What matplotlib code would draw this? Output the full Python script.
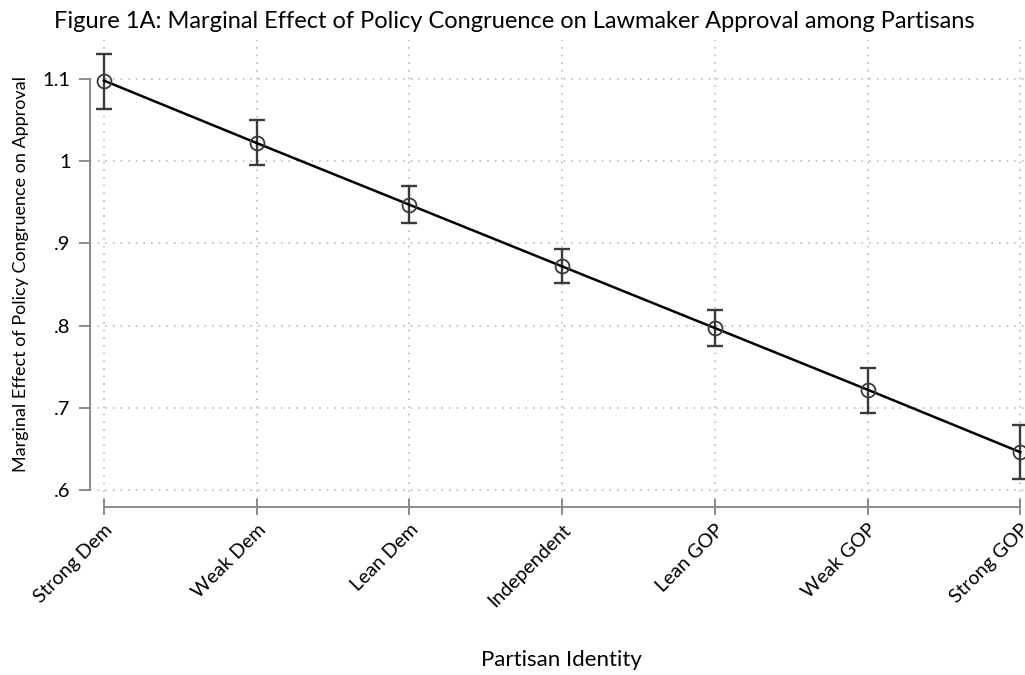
import matplotlib
matplotlib.use("Agg")
import matplotlib.pyplot as plt
import numpy as np

# Partisan identity categories and estimated marginal effects with 95% CIs
categories = ["Strong Dem", "Weak Dem", "Lean Dem", "Independent",
              "Lean GOP", "Weak GOP", "Strong GOP"]
effect = [1.098, 1.022, 0.947, 0.872, 0.797, 0.722, 0.646]
ci_low = [1.064, 0.995, 0.925, 0.852, 0.775, 0.694, 0.613]
ci_high = [1.131, 1.050, 0.970, 0.893, 0.819, 0.748, 0.679]
yticks = [0.6, 0.7, 0.8, 0.9, 1.0, 1.1]
ytick_labels = [".6", ".7", ".8", ".9", "1", "1.1"]

plt.rcParams["font.family"] = ["Lato", "DejaVu Sans"]

fig = plt.figure(figsize=(10.25, 6.75), dpi=100)
ax = fig.add_axes([0.0878, 0.2489, 0.9122, 0.6918])

x = np.arange(len(categories))
eff = np.array(effect)
lo = np.array(ci_low)
hi = np.array(ci_high)

ax.errorbar(x, eff, yerr=[eff - lo, hi - eff], fmt="none", ecolor="#3a3a3a",
            elinewidth=1.7, capsize=6, capthick=1.7, zorder=3)
ax.plot(x, eff, color="black", linewidth=1.8, zorder=4)
ax.plot(x, eff, linestyle="none", marker="o", markersize=10,
        markerfacecolor="none", markeredgecolor="#3a3a3a",
        markeredgewidth=1.3, zorder=5)

ax.set_xlim(-0.092, 6.031)
ax.set_ylim(0.5793, 1.1474)

ax.set_xticks(x)
ax.set_xticklabels(categories, rotation=45, ha="right", rotation_mode="anchor",
                   fontsize=14)
ax.set_yticks(yticks)
ax.set_yticklabels(ytick_labels, fontsize=14.5)

for side in ("top", "right"):
    ax.spines[side].set_visible(False)
for side in ("left", "bottom"):
    ax.spines[side].set_color("#8a8a8a")
    ax.spines[side].set_linewidth(1.4)
ax.spines["left"].set_bounds(0.6, 1.1)
ax.spines["bottom"].set_bounds(0, 6)

ax.tick_params(axis="y", direction="out", length=8, width=1.4, color="#8a8a8a",
               pad=6)
ax.tick_params(axis="x", direction="inout", length=12, width=1.4,
               color="#8a8a8a", pad=4)

ax.grid(True, color="#b0b0b0", linestyle=(0, (1, 4)), linewidth=1.1)
ax.set_axisbelow(True)

ax.set_ylabel("Marginal Effect of Policy Congruence on Approval", fontsize=13,
              labelpad=10)
fig.text(0.548, 0.022, "Partisan Identity", ha="center", va="center",
         fontsize=16)
fig.text(0.502, 0.968, "Figure 1A: Marginal Effect of Policy Congruence on Lawmaker "
         "Approval among Partisans", ha="center", va="center", fontsize=17)

fig.savefig("out.png", dpi=100)
